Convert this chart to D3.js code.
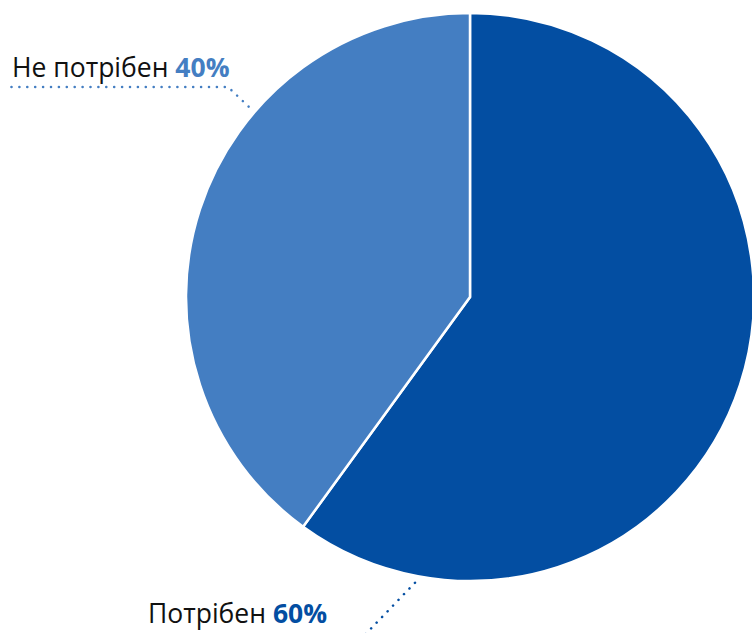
<!DOCTYPE html>
<html>
<head>
<meta charset="utf-8">
<script src="https://cdn.jsdelivr.net/npm/d3@7"></script>
<style>
html,body{margin:0;padding:0;background:#fff;}
svg{display:block;}
text{font-family:"Open Sans",sans-serif;}
</style>
</head>
<body>
<svg id="chart" width="752" height="633"></svg>
<script>
const categories = ["Потрібен", "Не потрібен"];
const values = [60, 40];
const colors = ["#034ea2", "#447ec2"];

const W = 752, H = 633;
const cx = 470, cy = 297, R = 284;
const svg = d3.select("#chart");
const g = svg.append("g").attr("transform", `translate(${cx},${cy})`);

const pie = d3.pie().sort(null).value(d => d.v);
const arcs = pie(categories.map((c, i) => ({c, v: values[i], col: colors[i]})));
const arc = d3.arc().innerRadius(0).outerRadius(R);

g.selectAll("path.slice").data(arcs).enter().append("path")
  .attr("class", "slice")
  .attr("d", arc)
  .attr("fill", d => d.data.col)
  .attr("stroke", "#fff")
  .attr("stroke-width", 2.5)
  .attr("stroke-linejoin", "miter");

// polar helper (angle in radians clockwise from top)
const pt = (a, r) => [Math.sin(a) * r, -Math.cos(a) * r];

// leader lines
const line = d3.line();
const topStart = pt(310.7 * Math.PI / 180, 292);
const topPts = [topStart, [228 - cx, 87 - cy], [10 - cx, 87 - cy]];
const botStart = pt(190.9 * Math.PI / 180, 291);
const botPts = [botStart, [360 - cx, 640 - cy]];

[[topPts, colors[1]], [botPts, colors[0]]].forEach(([p, col]) => {
  g.append("path")
    .attr("d", line(p))
    .attr("fill", "none")
    .attr("stroke", col)
    .attr("stroke-width", 2.5)
    .attr("stroke-linecap", "round")
    .attr("stroke-dasharray", "0.1 7.8");
});

// labels
const labelPos = [[148, 623], [12, 77]];
arcs.forEach((d, i) => {
  const t = svg.append("text")
    .attr("x", labelPos[i][0]).attr("y", labelPos[i][1])
    .attr("font-size", 26.5).attr("fill", "#111");
  t.append("tspan").text(d.data.c + " ");
  t.append("tspan").attr("font-weight", "bold").attr("fill", d.data.col)
    .text(d.data.v + "%");
});
</script>
</body>
</html>
